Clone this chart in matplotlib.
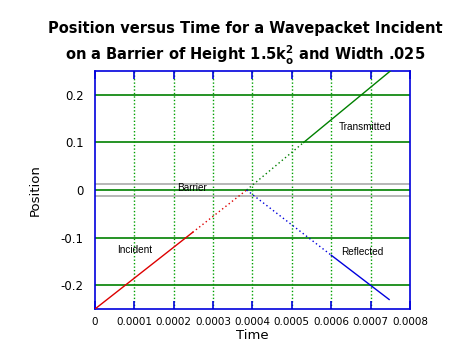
import matplotlib.pyplot as plt
import numpy as np

# time / position values
inc_t = [0.0, 0.000248, 0.000385]
inc_x = [-0.25, -0.089, 0.0]
trans_t = [0.000385, 0.00053, 0.00075]
trans_x = [0.0, 0.10, 0.25]
refl_t = [0.000385, 0.00060, 0.000747]
refl_x = [0.0, -0.137, -0.23]

barrier_half = 0.0125
xticks = [0, 0.0001, 0.0002, 0.0003, 0.0004, 0.0005, 0.0006, 0.0007, 0.0008]
xlabels = ["0", "0.0001", "0.0002", "0.0003", "0.0004", "0.0005", "0.0006", "0.0007", "0.0008"]
yticks = [-0.2, -0.1, 0, 0.1, 0.2]
ylabels = ["-0.2", "-0.1", "0", "0.1", "0.2"]

fig = plt.figure(figsize=(4.73, 3.56), dpi=100)
ax = fig.add_axes([0.2008, 0.132, 0.666, 0.6685])

grn = "#008000"
for y in yticks:
    ax.axhline(y, color=grn, lw=1.2, zorder=1)
for x in xticks[1:-1]:
    ax.axvline(x, color="#00a000", lw=1, ls=(0, (1, 1.5)), zorder=1)
ax.axhline(barrier_half, color="#aaaaaa", lw=1.2, zorder=1)
ax.axhline(-barrier_half, color="#aaaaaa", lw=1.2, zorder=1)

ax.plot(inc_t[:2], inc_x[:2], color="#dd0000", lw=1, zorder=3)
ax.plot(inc_t[1:], inc_x[1:], color="#dd0000", lw=1, ls=(0, (1, 2)), zorder=3)
ax.plot(trans_t[:2], trans_x[:2], color=grn, lw=1, ls=(0, (1, 2)), zorder=3)
ax.plot(trans_t[1:], trans_x[1:], color=grn, lw=1, zorder=3)
ax.plot(refl_t[:2], refl_x[:2], color="#0000dd", lw=1, ls=(0, (1, 2)), zorder=3)
ax.plot(refl_t[1:], refl_x[1:], color="#0000dd", lw=1, zorder=3)

lab = dict(fontsize=7.2, family="Liberation Sans", va="center")
ax.text(0.000057, -0.126, "Incident", **lab)
ax.text(0.000209, 0.004, "Barrier", **lab)
ax.text(0.000620, 0.133, "Transmitted", **lab)
ax.text(0.000625, -0.131, "Reflected", **lab)

ax.set_xlim(0, 0.0008)
ax.set_ylim(-0.25, 0.25)
ax.set_xticks(xticks)
ax.set_xticklabels(xlabels, fontsize=7.5)
ax.set_yticks(yticks)
ax.set_yticklabels(ylabels, fontsize=8.5)
ax.tick_params(axis="x", direction="in", length=6, color="#0000dd", top=True, width=1.2, pad=6)
ax.tick_params(axis="y", length=0, pad=8)
for s in ax.spines.values():
    s.set_color("#0000dd")
    s.set_linewidth(1.2)

ax.set_xlabel("Time", fontsize=9.5, labelpad=1)
ax.set_ylabel("Position", fontsize=9.5, labelpad=14)

fig.text(0.518, 0.92, "Position versus Time for a Wavepacket Incident",
         ha="center", va="center", fontsize=10.5, fontweight="bold")
fig.text(0.518, 0.843, r"on a Barrier of Height 1.5k$_\mathbf{o}^\mathbf{2}$ and Width .025",
         ha="center", va="center", fontsize=10.5, fontweight="bold")

fig.savefig("out.png", dpi=100)
